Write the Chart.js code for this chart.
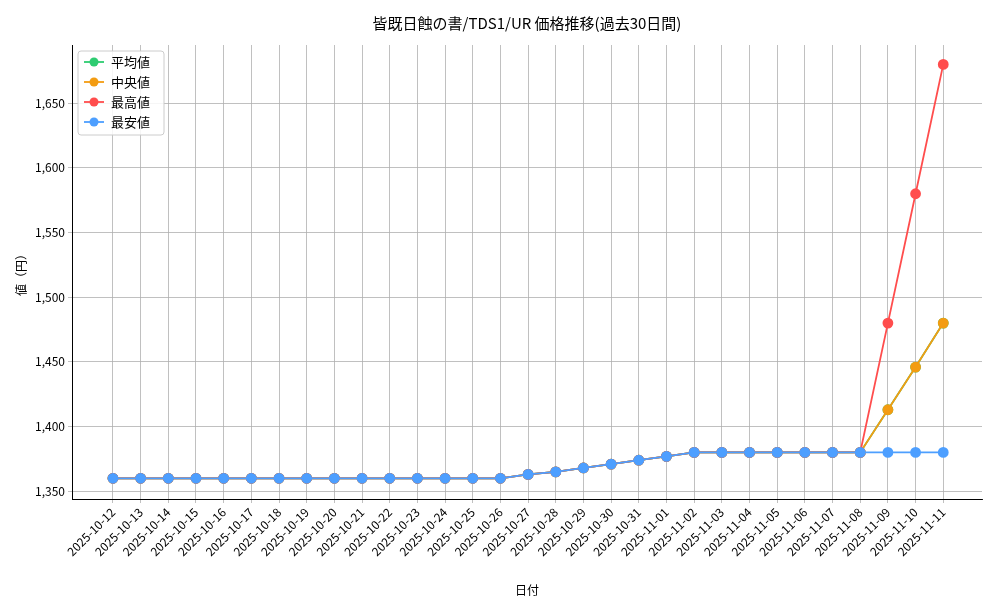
<!DOCTYPE html>
<html><head><meta charset="utf-8">
<script src="https://cdn.jsdelivr.net/npm/chart.js@4"></script>
<style>html,body{margin:0;background:#fff}#w{width:1000px;height:600px}</style>
</head><body><div id="w"><canvas id="c"></canvas></div>
<script>
const FONT = '"Noto Sans CJK JP", "DejaVu Sans", sans-serif';
const dates = [];
for (let d = 12; d <= 31; d++) dates.push('2025-10-' + d);
for (let d = 1; d <= 11; d++) dates.push('2025-11-' + String(d).padStart(2, '0'));
const flat = [1360,1360,1360,1360,1360,1360,1360,1360,1360,1360,1360,1360,1360,1360,1360,1363,1365,1368,1371,1374,1377,1380,1380,1380,1380,1380,1380,1380];
const avgVals = flat.concat([1413,1446,1480]);
const medVals = flat.concat([1413,1446,1480]);
const maxVals = flat.concat([1480,1580,1680]);
const minVals = flat.concat([1380,1380,1380]);
const yTicks = [1350,1400,1450,1500,1550,1600,1650];
const names = ['平均値','中央値','最高値','最安値'];
const colors = ['#2ecc71','#f39c12','#ff4d4d','#4d9fff'];
const series = [avgVals, medVals, maxVals, minVals];

const legendPlugin = {
  id: 'boxLegend',
  afterDraw(chart) {
    const ctx = chart.ctx, a = chart.chartArea;
    const x = a.left + 6, y = a.top + 6, w = 86, h = 84;
    ctx.save();
    ctx.fillStyle = 'rgba(255,255,255,0.85)';
    ctx.strokeStyle = '#ccc';
    ctx.lineWidth = 1;
    ctx.beginPath(); ctx.roundRect(x, y, w, h, 3); ctx.fill(); ctx.stroke();
    ctx.font = '13px ' + FONT; ctx.textBaseline = 'middle';
    names.forEach((n, i) => {
      const cy = y + 11 + i * 20;
      ctx.strokeStyle = colors[i]; ctx.lineWidth = 1.8;
      ctx.beginPath(); ctx.moveTo(x + 6, cy); ctx.lineTo(x + 26, cy); ctx.stroke();
      ctx.fillStyle = colors[i];
      ctx.beginPath(); ctx.arc(x + 16, cy, 4.5, 0, Math.PI * 2); ctx.fill();
      ctx.fillStyle = '#000'; ctx.fillText(n, x + 33, cy);
    });
    ctx.restore();
  }
};

new Chart(document.getElementById('c'), {
  type: 'line',
  data: {
    datasets: series.map((s, i) => ({
      label: names[i], data: s.map((v, k) => ({ x: k, y: v })),
      borderColor: colors[i], backgroundColor: colors[i],
      borderWidth: 1.8, pointRadius: 4.5, pointHoverRadius: 4.5, tension: 0,
      order: 3 - i
    }))
  },
  options: {
    responsive: true, maintainAspectRatio: false, animation: false,
    layout: { padding: { top: 45, right: 18, left: 10, bottom: 0 } },
    plugins: { legend: { display: false }, tooltip: { enabled: false }, title: { display: false } },
    scales: {
      x: {
        type: 'linear', min: -1.48, max: 31.4,
        afterBuildTicks(s) { s.ticks = dates.map((d, k) => ({ value: k })); },
        grid: { color: '#b0b0b0', lineWidth: 0.8, tickLength: 4 },
        border: { color: '#000' },
        ticks: { color: '#000', font: { family: FONT, size: 12 }, maxRotation: 45, minRotation: 45, autoSkip: false, padding: 2,
          callback: v => dates[v] },
        title: { display: true, text: '日付', color: '#000', font: { family: FONT, size: 12 }, padding: 2 },
        afterFit(s) { s.height = 101; }
      },
      y: {
        min: 1344, max: 1695,
        afterBuildTicks(s) { s.ticks = yTicks.map(v => ({ value: v })); },
        grid: { color: '#b0b0b0', lineWidth: 0.8, tickLength: 4 },
        border: { color: '#000' },
        ticks: { color: '#000', font: { family: FONT, size: 12 } },
        title: { display: true, text: '値（円）', color: '#000', font: { family: FONT, size: 12 } },
        afterFit(s) { s.width = 62; }
      }
    }
  },
  plugins: [legendPlugin, {
    id: 'ttl',
    afterDraw(chart) {
      const ctx = chart.ctx;
      ctx.save(); ctx.fillStyle = '#000'; ctx.font = '15px ' + FONT;
      ctx.textAlign = 'center'; ctx.textBaseline = 'middle';
      ctx.fillText('皆既日蝕の書/TDS1/UR 価格推移(過去30日間)', (chart.chartArea.left + chart.chartArea.right) / 2, 23);
      ctx.restore();
    }
  }]
});
</script></body></html>
